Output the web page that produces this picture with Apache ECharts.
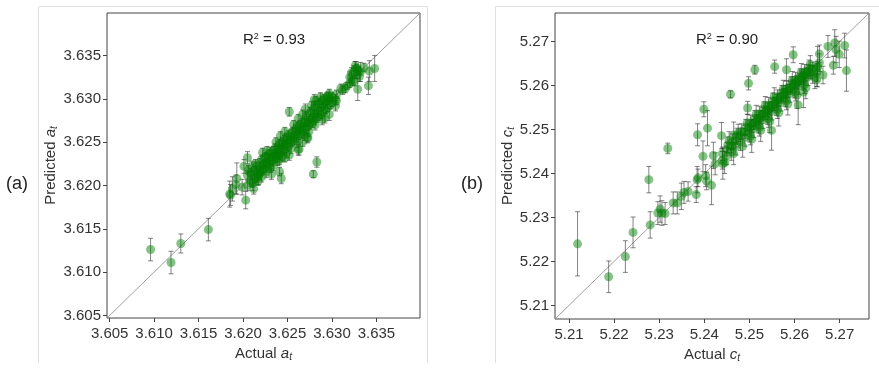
<!DOCTYPE html>
<html>
<head>
<meta charset="utf-8">
<script src="https://cdn.jsdelivr.net/npm/echarts@6/dist/echarts.min.js"></script>
<style>
  html, body { margin: 0; padding: 0; background: #fff; }
  #main { width: 879px; height: 370px; }
</style>
</head>
<body>
<div id="main"></div>
<script>
// axis ranges and tick labels
var rangeA = [3.6047, 3.6399];
var rangeB = [5.2069, 5.2765];
var ticksA = [3.605, 3.610, 3.615, 3.620, 3.625, 3.630, 3.635];
var ticksB = [5.21, 5.22, 5.23, 5.24, 5.25, 5.26, 5.27];
var r2A = '0.93';
var r2B = '0.90';

// [actual, predicted, error] for a_t
var pointsA = [
  [3.6096,3.6126,.0013],[3.6119,3.6111,.0013],[3.6130,3.6133,.0011],[3.6161,3.6149,.0013],
  [3.6185,3.6190,.0015],[3.6186,3.6189,.0012],[3.6188,3.6196,.0014],[3.6193,3.6208,.0018],
  [3.6192,3.6201,.0011],[3.6199,3.6198,.0009],[3.6203,3.6183,.0010],[3.6201,3.6222,.0008],
  [3.6205,3.6232,.0007],[3.6211,3.6203,.0009],[3.6217,3.6210,.0009],[3.6252,3.6285,.0005],
  [3.6263,3.6242,.0007],[3.6262,3.6241,.0006],[3.6283,3.6227,.0006],[3.6279,3.6213,.0004],
  [3.6243,3.6208,.0006],[3.6241,3.6216,.0005],[3.6273,3.6255,.0005],[3.6280,3.6299,.0006],
  [3.6270,3.6288,.0006],[3.6297,3.6282,.0007],[3.6304,3.6292,.0006],[3.6304,3.6299,.0006],
  [3.6289,3.6276,.0006],[3.6310,3.6312,.0005],[3.6317,3.6315,.0004],[3.6329,3.6311,.0013],
  [3.6341,3.6315,.0010],[3.6348,3.6335,.0015],[3.6342,3.6332,.0012],[3.6327,3.6335,.0008],
  [3.6332,3.6331,.0011],[3.6322,3.6325,.0007],[3.6325,3.6320,.0005],[3.6336,3.6336,.0005],
  [3.6205,3.6212,.0005],[3.6205,3.6200,.0006],[3.6206,3.6218,.0005],[3.6208,3.6205,.0006],
  [3.6208,3.6215,.0005],[3.6210,3.6212,.0005],[3.6210,3.6222,.0006],[3.6211,3.6203,.0005],
  [3.6213,3.6208,.0005],[3.6213,3.6218,.0004],[3.6214,3.6225,.0005],[3.6215,3.6215,.0005],
  [3.6216,3.6210,.0006],[3.6215,3.6222,.0005],[3.6218,3.6218,.0004],[3.6218,3.6212,.0005],
  [3.6219,3.6226,.0005],[3.6220,3.6222,.0005],[3.6220,3.6215,.0004],[3.6221,3.6230,.0005],
  [3.6221,3.6210,.0006],[3.6223,3.6224,.0004],[3.6223,3.6218,.0005],[3.6224,3.6232,.0005],
  [3.6225,3.6226,.0004],[3.6225,3.6220,.0005],[3.6226,3.6233,.0005],[3.6226,3.6215,.0006],
  [3.6228,3.6228,.0004],[3.6228,3.6222,.0005],[3.6229,3.6236,.0005],[3.6230,3.6232,.0004],
  [3.6230,3.6225,.0005],[3.6231,3.6238,.0006],[3.6231,3.6220,.0005],[3.6233,3.6233,.0004],
  [3.6233,3.6228,.0005],[3.6234,3.6240,.0005],[3.6234,3.6223,.0006],[3.6235,3.6236,.0004],
  [3.6235,3.6230,.0005],[3.6236,3.6243,.0005],[3.6238,3.6238,.0004],[3.6238,3.6232,.0005],
  [3.6239,3.6245,.0006],[3.6239,3.6228,.0005],[3.6240,3.6242,.0004],[3.6240,3.6235,.0005],
  [3.6241,3.6248,.0005],[3.6241,3.6230,.0006],[3.6243,3.6243,.0004],[3.6243,3.6238,.0005],
  [3.6244,3.6250,.0005],[3.6244,3.6233,.0005],[3.6245,3.6247,.0004],[3.6245,3.6240,.0005],
  [3.6246,3.6253,.0005],[3.6248,3.6248,.0004],[3.6248,3.6243,.0005],[3.6249,3.6255,.0005],
  [3.6249,3.6238,.0006],[3.6250,3.6252,.0004],[3.6250,3.6245,.0005],[3.6251,3.6258,.0005],
  [3.6253,3.6253,.0004],[3.6253,3.6248,.0005],[3.6254,3.6260,.0005],[3.6254,3.6243,.0006],
  [3.6255,3.6256,.0004],[3.6255,3.6250,.0005],[3.6256,3.6262,.0005],[3.6258,3.6258,.0004],
  [3.6258,3.6252,.0005],[3.6259,3.6265,.0005],[3.6260,3.6262,.0004],[3.6260,3.6255,.0005],
  [3.6261,3.6268,.0005],[3.6261,3.6250,.0006],[3.6263,3.6263,.0004],[3.6263,3.6258,.0005],
  [3.6264,3.6270,.0005],[3.6265,3.6266,.0004],[3.6265,3.6260,.0005],[3.6266,3.6272,.0005],
  [3.6268,3.6268,.0004],[3.6268,3.6262,.0005],[3.6269,3.6275,.0005],[3.6269,3.6258,.0006],
  [3.6270,3.6272,.0004],[3.6270,3.6265,.0005],[3.6271,3.6280,.0005],[3.6273,3.6273,.0004],
  [3.6273,3.6268,.0005],[3.6274,3.6282,.0005],[3.6274,3.6262,.0006],[3.6275,3.6276,.0004],
  [3.6275,3.6270,.0005],[3.6276,3.6285,.0005],[3.6278,3.6278,.0004],[3.6278,3.6272,.0005],
  [3.6279,3.6288,.0005],[3.6280,3.6282,.0004],[3.6280,3.6275,.0005],[3.6281,3.6292,.0005],
  [3.6281,3.6270,.0006],[3.6283,3.6283,.0004],[3.6283,3.6278,.0005],[3.6284,3.6293,.0005],
  [3.6285,3.6286,.0004],[3.6285,3.6280,.0005],[3.6286,3.6295,.0005],[3.6288,3.6290,.0004],
  [3.6288,3.6282,.0005],[3.6289,3.6298,.0005],[3.6290,3.6292,.0004],[3.6290,3.6285,.0005],
  [3.6291,3.6300,.0005],[3.6293,3.6295,.0005],[3.6293,3.6288,.0005],[3.6294,3.6302,.0005],
  [3.6295,3.6298,.0005],[3.6295,3.6290,.0005],[3.6296,3.6303,.0005],[3.6298,3.6300,.0005],
  [3.6298,3.6293,.0005],[3.6300,3.6302,.0005],[3.6300,3.6296,.0005],[3.6305,3.6305,.0005],
  [3.6305,3.6298,.0005],[3.6312,3.6310,.0005],[3.6315,3.6312,.0005],[3.6320,3.6318,.0005],
  [3.6320,3.6325,.0006],[3.6322,3.6330,.0006],[3.6323,3.6320,.0005],[3.6325,3.6332,.0006],
  [3.6326,3.6338,.0005],[3.6328,3.6328,.0005],[3.6328,3.6335,.0005],[3.6330,3.6332,.0005],
  [3.6331,3.6326,.0006],
  [3.6212,3.6196,.0006],[3.6222,3.6238,.0005],[3.6232,3.6213,.0006],[3.6242,3.6257,.0005],
  [3.6252,3.6235,.0006],[3.6262,3.6277,.0005],[3.6272,3.6255,.0006],[3.6282,3.6298,.0005],
  [3.6292,3.6278,.0006],[3.6227,3.6240,.0005],[3.6237,3.6250,.0005],[3.6247,3.6262,.0005],
  [3.6257,3.6270,.0005],[3.6267,3.6282,.0005],[3.6277,3.6292,.0005],[3.6287,3.6302,.0005],
  [3.6217,3.6205,.0005],[3.6247,3.6232,.0005],[3.6267,3.6250,.0005],[3.6297,3.6306,.0005]
];

// [actual, predicted, error] for c_t
var pointsB = [
  [5.2119,5.2240,.0073],[5.2188,5.2165,.0036],[5.2225,5.2211,.0036],[5.2242,5.2266,.0035],
  [5.2280,5.2283,.0030],[5.2277,5.2386,.0030],[5.2297,5.2310,.0026],[5.2302,5.2319,.0030],
  [5.2306,5.2310,.0028],[5.2313,5.2309,.0025],[5.2319,5.2457,.0012],[5.2331,5.2333,.0025],
  [5.2340,5.2333,.0025],[5.2349,5.2348,.0030],[5.2355,5.2357,.0025],[5.2364,5.2359,.0022],
  [5.2382,5.2352,.0018],[5.2384,5.2386,.0030],[5.2385,5.2488,.0025],[5.2386,5.2390,.0020],
  [5.2397,5.2439,.0035],[5.2407,5.2503,.0040],[5.2399,5.2546,.0017],[5.2403,5.2395,.0025],
  [5.2405,5.2383,.0020],[5.2416,5.2373,.0044],[5.2420,5.2441,.0030],[5.2424,5.2422,.0025],
  [5.2438,5.2486,.0030],[5.2441,5.2422,.0035],[5.2458,5.2580,.0008],[5.2465,5.2487,.0030],
  [5.2496,5.2549,.0015],[5.2498,5.2605,.0015],[5.2512,5.2636,.0010],[5.2556,5.2643,.0015],
  [5.2597,5.2670,.0018],[5.2582,5.2636,.0025],[5.2549,5.2498,.0045],[5.2651,5.2643,.0046],
  [5.2674,5.2689,.0025],[5.2689,5.2697,.0030],[5.2692,5.2682,.0030],[5.2699,5.2671,.0030],
  [5.2711,5.2691,.0028],[5.2715,5.2634,.0047],[5.2686,5.2646,.0020],[5.2663,5.2624,.0020],
  [5.2649,5.2613,.0015],[5.2655,5.2672,.0020],[5.2620,5.2585,.0035],[5.2608,5.2556,.0045],
  [5.2440,5.2445,.0015],[5.2440,5.2430,.0020],[5.2450,5.2455,.0015],[5.2450,5.2440,.0020],
  [5.2452,5.2465,.0018],[5.2460,5.2462,.0015],[5.2460,5.2450,.0020],[5.2462,5.2472,.0018],
  [5.2470,5.2475,.0015],[5.2470,5.2462,.0020],[5.2472,5.2485,.0018],[5.2480,5.2488,.0015],
  [5.2480,5.2472,.0020],[5.2482,5.2495,.0018],[5.2490,5.2495,.0015],[5.2490,5.2482,.0020],
  [5.2492,5.2505,.0018],[5.2500,5.2505,.0015],[5.2500,5.2492,.0020],[5.2502,5.2515,.0018],
  [5.2502,5.2485,.0020],[5.2510,5.2515,.0015],[5.2510,5.2502,.0020],[5.2512,5.2525,.0018],
  [5.2520,5.2525,.0015],[5.2520,5.2512,.0020],[5.2522,5.2535,.0018],[5.2522,5.2505,.0020],
  [5.2530,5.2535,.0015],[5.2530,5.2522,.0020],[5.2532,5.2545,.0018],[5.2540,5.2545,.0015],
  [5.2540,5.2532,.0020],[5.2542,5.2555,.0018],[5.2542,5.2525,.0020],[5.2550,5.2555,.0015],
  [5.2550,5.2542,.0020],[5.2552,5.2565,.0018],[5.2560,5.2565,.0015],[5.2560,5.2552,.0020],
  [5.2562,5.2572,.0018],[5.2562,5.2545,.0020],[5.2570,5.2575,.0015],[5.2570,5.2562,.0020],
  [5.2572,5.2582,.0018],[5.2580,5.2585,.0015],[5.2580,5.2572,.0020],[5.2582,5.2592,.0018],
  [5.2582,5.2565,.0020],[5.2590,5.2595,.0015],[5.2590,5.2582,.0020],[5.2592,5.2602,.0018],
  [5.2600,5.2605,.0015],[5.2600,5.2592,.0020],[5.2602,5.2612,.0018],[5.2602,5.2585,.0020],
  [5.2610,5.2612,.0015],[5.2610,5.2600,.0020],[5.2612,5.2620,.0018],[5.2620,5.2622,.0015],
  [5.2620,5.2610,.0020],[5.2622,5.2630,.0018],[5.2622,5.2602,.0020],[5.2630,5.2632,.0015],
  [5.2630,5.2620,.0020],[5.2632,5.2640,.0018],[5.2640,5.2638,.0015],[5.2640,5.2625,.0020],
  [5.2650,5.2640,.0015],[5.2650,5.2630,.0020],
  [5.2445,5.2425,.0025],[5.2455,5.2475,.0020],[5.2465,5.2445,.0025],[5.2475,5.2492,.0020],
  [5.2485,5.2462,.0025],[5.2495,5.2515,.0020],[5.2505,5.2478,.0030],[5.2515,5.2535,.0020],
  [5.2525,5.2498,.0025],[5.2535,5.2555,.0020],[5.2545,5.2518,.0025],[5.2555,5.2575,.0020],
  [5.2565,5.2538,.0030],[5.2575,5.2592,.0020],[5.2585,5.2558,.0025],[5.2595,5.2612,.0020],
  [5.2605,5.2578,.0030],[5.2615,5.2630,.0020],[5.2625,5.2595,.0025],[5.2635,5.2648,.0020],
  [5.2645,5.2618,.0025],[5.2655,5.2652,.0020],[5.2505,5.2508,.0015],[5.2515,5.2518,.0015],
  [5.2525,5.2528,.0015],[5.2535,5.2538,.0015],[5.2545,5.2548,.0015],[5.2555,5.2558,.0015],
  [5.2565,5.2568,.0015],[5.2575,5.2578,.0015],[5.2585,5.2588,.0015],[5.2595,5.2598,.0015],
  [5.2605,5.2608,.0015],[5.2615,5.2618,.0015],[5.2625,5.2625,.0015],[5.2635,5.2630,.0015]
];

var chart = echarts.init(document.getElementById('main'));
var font = 'Liberation Sans, Arial, sans-serif';
var textColor = '#333';

function axisName(prefix, v) {
  return prefix + ' {i|' + v + '}{s|t}';
}
var nameRich = {
  i: { fontStyle: 'italic', fontSize: 15, color: textColor, fontFamily: font },
  s: { fontStyle: 'italic', fontSize: 10, color: textColor, fontFamily: font, padding: [7, 0, 0, 0] }
};

function makeAxis(idx, range, ticks, dec, name, gap, margin) {
  return {
    type: 'value', gridIndex: idx, min: range[0], max: range[1],
    name: name, nameLocation: 'middle', nameGap: gap,
    nameTextStyle: { fontSize: 15, color: textColor, fontFamily: font, rich: nameRich },
    axisLine: { show: false },
    axisTick: { show: true, inside: false, length: 4, customValues: ticks, lineStyle: { color: '#444' } },
    axisLabel: {
      customValues: ticks, fontSize: 15, color: textColor, fontFamily: font, margin: margin,
      formatter: function (v) { return v.toFixed(dec); }
    },
    splitLine: { show: false }
  };
}

function errRender(params, api) {
  var x = api.value(0), y = api.value(1), e = api.value(2);
  var hi = api.coord([x, y + e]);
  var lo = api.coord([x, y - e]);
  var w = 2.5;
  var st = { stroke: 'rgba(50,50,50,0.6)', lineWidth: 1 };
  return {
    type: 'group',
    children: [
      { type: 'line', shape: { x1: hi[0], y1: hi[1], x2: lo[0], y2: lo[1] }, style: st },
      { type: 'line', shape: { x1: hi[0] - w, y1: hi[1], x2: hi[0] + w, y2: hi[1] }, style: st },
      { type: 'line', shape: { x1: lo[0] - w, y1: lo[1], x2: lo[0] + w, y2: lo[1] }, style: st }
    ]
  };
}

function panelSeries(idx, pts, range) {
  return [
    {
      type: 'line', xAxisIndex: idx, yAxisIndex: idx, symbol: 'none', silent: true,
      data: [[range[0], range[0]], [range[1], range[1]]],
      lineStyle: { color: '#888', width: 0.8 }, z: 1
    },
    {
      type: 'custom', xAxisIndex: idx, yAxisIndex: idx, renderItem: errRender,
      data: pts, encode: { x: 0, y: 1 }, z: 2
    },
    {
      type: 'scatter', xAxisIndex: idx, yAxisIndex: idx, symbolSize: 9,
      data: pts.map(function (p) { return [p[0], p[1]]; }),
      itemStyle: { color: 'rgba(0,128,0,0.6)' }, z: 3
    }
  ];
}

function r2Text(x, val) {
  return {
    type: 'text', left: x, top: 32,
    style: {
      text: '{r|R}{s|2}{r| = ' + val + '}',
      rich: {
        r: { fontSize: 15, fontFamily: font, fill: '#222' },
        s: { fontSize: 9, fontFamily: font, fill: '#222', padding: [0, 0, 7, 0] }
      }
    }
  };
}

var frame = { stroke: '#e0e0e0', lineWidth: 1 };

var option = {
  animation: false,
  backgroundColor: '#fff',
  grid: [
    { left: 107, top: 13, width: 313, height: 305, show: true, borderColor: '#444', borderWidth: 1 },
    { left: 555, top: 13, width: 314, height: 306, show: true, borderColor: '#444', borderWidth: 1 }
  ],
  xAxis: [
    makeAxis(0, rangeA, ticksA, 3, axisName('Actual', 'a'), 27, 8),
    makeAxis(1, rangeB, ticksB, 2, axisName('Actual', 'c'), 27, 8)
  ],
  yAxis: [
    makeAxis(0, rangeA, ticksA, 3, axisName('Predicted', 'a'), 46, 6),
    makeAxis(1, rangeB, ticksB, 2, axisName('Predicted', 'c'), 38, 6)
  ],
  series: panelSeries(0, pointsA, rangeA).concat(panelSeries(1, pointsB, rangeB)),
  graphic: [
    { type: 'line', shape: { x1: 38.5, y1: 6.5, x2: 427.5, y2: 6.5 }, style: frame, silent: true },
    { type: 'line', shape: { x1: 38.5, y1: 6.5, x2: 38.5, y2: 363 }, style: frame, silent: true },
    { type: 'line', shape: { x1: 427.5, y1: 6.5, x2: 427.5, y2: 363 }, style: frame, silent: true },
    { type: 'line', shape: { x1: 495.5, y1: 6.5, x2: 879, y2: 6.5 }, style: frame, silent: true },
    { type: 'line', shape: { x1: 495.5, y1: 6.5, x2: 495.5, y2: 363 }, style: frame, silent: true },
    { type: 'text', left: 6, top: 175, style: { text: '(a)', fontSize: 18, fontFamily: font, fill: '#222' } },
    { type: 'text', left: 461, top: 175, style: { text: '(b)', fontSize: 18, fontFamily: font, fill: '#222' } },
    r2Text(243, r2A),
    r2Text(696, r2B)
  ]
};

chart.setOption(option);
</script>
</body>
</html>
